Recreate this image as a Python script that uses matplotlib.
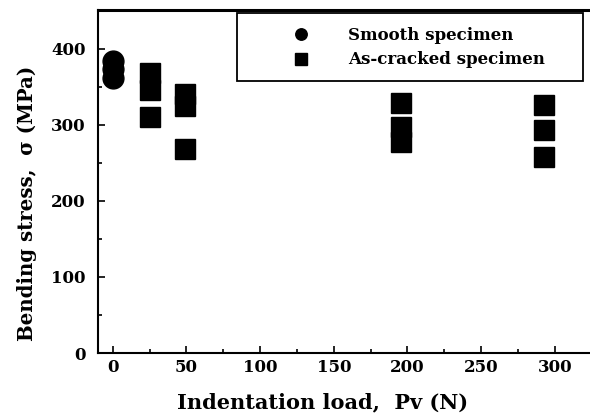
import matplotlib
matplotlib.use("Agg")
import matplotlib.pyplot as plt
from matplotlib.ticker import MultipleLocator
from matplotlib.patches import Rectangle

smooth_load = [0, 0, 0]
smooth_stress = [384, 373, 362]
cracked_load = [25, 25, 25, 49, 49, 49, 195.5, 195.5, 195.5, 293, 293, 293]
cracked_stress = [368, 346, 310, 341, 325, 268, 329, 297, 278, 326, 293, 258]
xticks = [0, 50, 100, 150, 200, 250, 300]
yticks = [0, 100, 200, 300, 400]

plt.rcParams['font.family'] = ['DejaVu Serif']
plt.rcParams['font.weight'] = 'bold'

W, H = 590, 416
fig = plt.figure(figsize=(W/100, H/100), dpi=100)
ax = fig.add_axes([98/W, 63/H, 501/W, 343/H])

ax.plot(smooth_load, smooth_stress, 'o', color='black', markersize=15,
        linestyle='none', label='Smooth specimen')
ax.plot(cracked_load, cracked_stress, 's', color='black', markersize=14.4,
        linestyle='none', label='As-cracked specimen')

ax.set_xlim(-10, 330)
ax.set_ylim(0, 451)
ax.set_xticks(xticks)
ax.set_yticks(yticks)
ax.xaxis.set_minor_locator(MultipleLocator(25))
ax.yaxis.set_minor_locator(MultipleLocator(50))
ax.tick_params(which='major', direction='in', length=5, width=1.2, labelsize=12)
ax.tick_params(which='minor', direction='in', length=3, width=1.2)
ax.tick_params(axis='x', which='major', pad=4)
ax.tick_params(axis='y', which='major', pad=9)
ax.tick_params(top=False, right=False)
for lab in ax.get_xticklabels() + ax.get_yticklabels():
    lab.set_fontweight('bold')

ax.spines['top'].set_linewidth(2.2)
ax.spines['left'].set_linewidth(1.5)
ax.spines['bottom'].set_linewidth(1.5)
ax.spines['right'].set_linewidth(1.5)

ax.set_xlabel('Indentation load,  Pv (N)', fontsize=15, fontweight='bold')
ax.set_ylabel('Bending stress,  σ (MPa)', fontsize=14.2, fontweight='bold')
ax.xaxis.set_label_coords((323 - 98) / 501, (353 - 392) / 343)
ax.yaxis.set_label_coords((37 - 98) / 501, (353 - 203) / 343)

fs_px = 12 * 100 / 72
hl = 2.0
handle_left = 301 - hl * fs_px / 2
htp = (348 - (handle_left + hl * fs_px)) / fs_px
leg = fig.legend(loc='upper left', bbox_to_anchor=(handle_left / W, (H - 27) / H),
                 frameon=False, markerscale=0.55,
                 prop={'family': 'DejaVu Serif', 'weight': 'bold', 'size': 12},
                 handletextpad=htp, borderpad=0, handlelength=hl,
                 labelspacing=0.45, borderaxespad=0)

fig.patches.append(Rectangle((237/W, (H-81)/H), 346/W, 68/H, transform=fig.transFigure,
                             fill=False, edgecolor='black', linewidth=1.3, zorder=5))

fig.savefig('out.png', dpi=100)
